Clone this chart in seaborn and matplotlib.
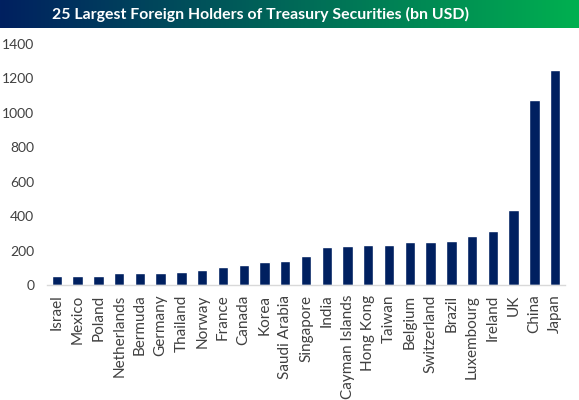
import numpy as np
import pandas as pd
import seaborn as sns
import matplotlib.pyplot as plt
from matplotlib.colors import LinearSegmentedColormap

countries = ["Israel", "Mexico", "Poland", "Netherlands", "Bermuda", "Germany",
             "Thailand", "Norway", "France", "Canada", "Korea", "Saudi Arabia",
             "Singapore", "India", "Cayman Islands", "Hong Kong", "Taiwan",
             "Belgium", "Switzerland", "Brazil", "Luxembourg", "Ireland", "UK",
             "China", "Japan"]
holdings = [50, 50, 50, 69, 69, 72, 78, 85, 106, 117, 131, 137, 166, 218, 224,
            230, 235, 252, 252, 258, 285, 314, 436, 1072, 1251]
yticks = [0, 200, 400, 600, 800, 1000, 1200, 1400]

df = pd.DataFrame({"country": countries, "value": holdings})

sns.set_style("white")
plt.rcParams["font.family"] = ["Lato", "DejaVu Sans"]

fig = plt.figure(figsize=(5.79, 4), dpi=100)
ax = fig.add_axes([0.081, 0.2875, 0.895, 0.6025])

sns.barplot(data=df, x="country", y="value", color="#002060", width=0.5,
            saturation=1, ax=ax)

ax.set_ylim(0, 1400)
ax.set_yticks(yticks)
ax.set_yticklabels([str(t) for t in yticks], fontsize=10, color="#404040")
ax.set_xlim(-0.48, 24.48)
ax.set_xlabel("")
ax.set_ylabel("")
ax.tick_params(axis="x", labelrotation=90, labelsize=11, labelcolor="#404040",
               length=0, pad=7)
ax.tick_params(axis="y", length=0, pad=9)
for side in ["top", "right", "left"]:
    ax.spines[side].set_visible(False)
ax.spines["bottom"].set_color("#d9d9d9")
ax.spines["bottom"].set_linewidth(1)

# title banner with gradient
bax = fig.add_axes([0, 1 - 28 / 400, 1, 28 / 400])
cmap = LinearSegmentedColormap.from_list("banner", ["#002060", "#00b050"])
bax.imshow(np.linspace(0, 1, 256).reshape(1, -1), aspect="auto", cmap=cmap,
           extent=[0, 1, 0, 1])
bax.set_axis_off()
bax.text(0.45, 0.5, "25 Largest Foreign Holders of Treasury Securities (bn USD)",
         ha="center", va="center", color="white", fontsize=11.4,
         fontweight="bold", transform=bax.transAxes)

fig.savefig("out.png", dpi=100)
